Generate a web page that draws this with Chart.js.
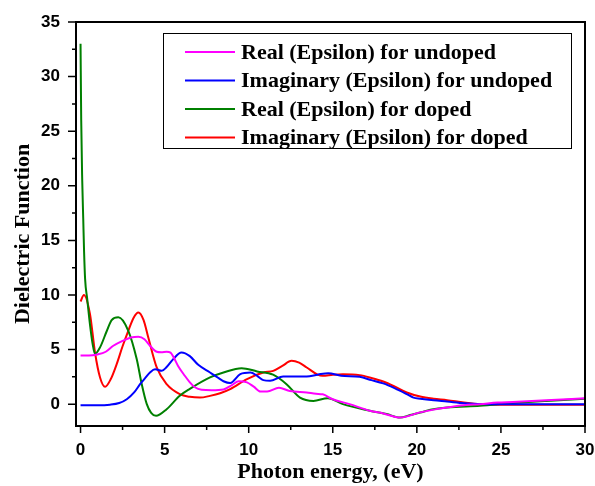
<!DOCTYPE html>
<html>
<head>
<meta charset="utf-8">
<script src="https://cdn.jsdelivr.net/npm/chart.js@4.4.1/dist/chart.umd.min.js"></script>
<style>
  body { margin: 0; background: #fff; }
  canvas { display: block; }
</style>
</head>
<body>
<canvas id="dielectricChart" width="595" height="486"></canvas>
<script>
// Real and imaginary parts of the dielectric function vs photon energy (eV)
const realUndopedX = [0, 0.5, 1.0, 1.5, 1.95, 2.5, 3.0, 3.44, 3.8, 4.13, 4.53, 4.8, 5.12, 5.35, 5.5, 5.8, 6.2, 6.5, 6.8, 7.2, 7.8, 8.5, 9.0, 9.4, 9.9, 10.3, 10.7, 11.1, 11.8, 12.45, 13.45, 14.0, 14.4, 15.0, 16.0, 17.2, 18.0, 19.0, 20.2, 21.0, 21.8, 22.8, 23.75, 24.8, 25.7, 27.7, 30];
const realUndopedY = [4.45, 4.45, 4.55, 4.8, 5.35, 5.8, 6.1, 6.17, 5.95, 5.35, 4.8, 4.75, 4.8, 4.72, 4.4, 3.5, 2.6, 2.0, 1.55, 1.32, 1.28, 1.35, 1.75, 2.1, 2.0, 1.6, 1.15, 1.15, 1.5, 1.2, 1.07, 0.95, 0.9, 0.45, 0.0, -0.6, -0.85, -1.23, -0.75, -0.5, -0.3, -0.1, 0.0, 0.15, 0.2, 0.35, 0.55];

const imagUndopedX = [0, 0.5, 1.0, 1.75, 2.3, 2.75, 3.2, 3.54, 3.85, 4.13, 4.43, 4.83, 5.12, 5.5, 6.0, 6.5, 7.0, 7.7, 8.1, 8.5, 8.9, 9.5, 10.1, 10.5, 10.87, 11.27, 12.05, 13.45, 14.1, 14.73, 15.5, 16.6, 17.3, 18.0, 18.7, 19.4, 19.8, 20.2, 21.0, 21.8, 22.8, 24.35, 26, 28, 30];
const imagUndopedY = [-0.1, -0.1, -0.1, -0.05, 0.1, 0.45, 1.1, 1.83, 2.4, 2.9, 3.2, 3.05, 3.4, 4.1, 4.73, 4.4, 3.6, 2.9, 2.5, 2.1, 1.93, 2.75, 2.9, 2.6, 2.2, 2.14, 2.53, 2.53, 2.7, 2.84, 2.6, 2.5, 2.2, 1.9, 1.45, 0.92, 0.6, 0.5, 0.35, 0.24, 0.09, 0.0, 0.0, 0.0, 0.0];

const realDopedX = [0, 0.04, 0.1, 0.16, 0.21, 0.27, 0.4, 0.56, 0.72, 0.86, 1.16, 1.56, 1.85, 2.25, 2.84, 3.34, 3.64, 3.94, 4.2, 4.49, 5.12, 5.9, 6.5, 7.7, 8.5, 9.58, 10.5, 11.45, 12.25, 13.05, 13.85, 14.7, 15.6, 17.2, 18.2, 19.0, 19.6, 20.2, 20.8, 21.8, 23.75, 25.7, 27.7, 30];
const realDopedY = [33, 26, 20.5, 17, 14, 11.5, 9.6, 7.3, 5.5, 4.6, 5.2, 6.7, 7.7, 7.95, 6.72, 4.13, 1.83, 0.0, -0.8, -1.07, -0.46, 0.77, 1.4, 2.45, 2.9, 3.3, 3.0, 2.7, 1.83, 0.6, 0.3, 0.55, 0.0, -0.6, -0.9, -1.23, -1.0, -0.77, -0.52, -0.3, -0.15, 0.1, 0.3, 0.5];

const imagDopedX = [0, 0.2, 0.56, 0.86, 1.16, 1.46, 1.8, 2.15, 2.5, 2.84, 3.15, 3.44, 3.75, 4.03, 4.53, 5.12, 5.9, 6.5, 7.1, 7.7, 8.3, 8.9, 9.9, 10.87, 11.46, 12.0, 12.55, 13.0, 13.45, 14.1, 14.4, 15.0, 15.6, 16.6, 17.3, 18.0, 18.7, 19.4, 20.2, 21.0, 21.8, 22.8, 23.75, 25.7, 30];
const imagDopedY = [9.4, 10.0, 8.26, 4.73, 2.44, 1.59, 2.3, 3.67, 5.3, 6.72, 7.9, 8.4, 7.7, 6.1, 3.36, 1.83, 0.92, 0.67, 0.6, 0.76, 1.0, 1.38, 2.3, 2.9, 3.05, 3.5, 3.97, 3.8, 3.36, 2.7, 2.6, 2.7, 2.75, 2.66, 2.4, 2.07, 1.6, 1.07, 0.7, 0.5, 0.37, 0.15, 0.0, -0.05, -0.05];

const seriesLabels = [
  'Real (Epsilon) for undoped',
  'Imaginary (Epsilon) for undoped',
  'Real (Epsilon) for doped',
  'Imaginary (Epsilon) for doped'
];
const seriesColors = ['#ff00ff', '#0000ff', '#008000', '#ff0000'];

const xMajorTicks = [0, 5, 10, 15, 20, 25, 30];
const xMinorTicks = [2.5, 7.5, 12.5, 17.5, 22.5, 27.5];
const yMajorTicks = [0, 5, 10, 15, 20, 25, 30, 35];
const yMinorTicks = [2.5, 7.5, 12.5, 17.5, 22.5, 27.5, 32.5];

const serif = '"Liberation Serif", "Times New Roman", serif';
const sans = '"Liberation Sans", Arial, sans-serif';

function toPoints(xs, ys) {
  return xs.map((x, i) => ({ x: x, y: ys[i] }));
}

const seriesPoints = [
  toPoints(realUndopedX, realUndopedY),
  toPoints(imagUndopedX, imagUndopedY),
  toPoints(realDopedX, realDopedY),
  toPoints(imagDopedX, imagDopedY)
];

// frame, tick marks, y title and the boxed legend inside the plot
const decorations = {
  id: 'decorations',
  afterDraw(chart) {
    const ctx = chart.ctx;
    const { left, right, top, bottom } = chart.chartArea;
    const xs = chart.scales.x, ys = chart.scales.y;
    ctx.save();
    ctx.strokeStyle = '#000';
    ctx.lineWidth = 2;
    ctx.strokeRect(left, top, right - left, bottom - top);

    ctx.lineWidth = 1.5;
    ctx.beginPath();
    xMajorTicks.forEach(v => { const p = xs.getPixelForValue(v); ctx.moveTo(p, bottom); ctx.lineTo(p, bottom + 7); });
    xMinorTicks.forEach(v => { const p = xs.getPixelForValue(v); ctx.moveTo(p, bottom); ctx.lineTo(p, bottom + 4); });
    yMajorTicks.forEach(v => { const p = ys.getPixelForValue(v); ctx.moveTo(left, p); ctx.lineTo(left - 8, p); });
    yMinorTicks.forEach(v => { const p = ys.getPixelForValue(v); ctx.moveTo(left, p); ctx.lineTo(left - 4, p); });
    ctx.stroke();

    // y axis title
    ctx.fillStyle = '#000';
    ctx.font = 'bold 22px ' + serif;
    ctx.textAlign = 'center';
    ctx.textBaseline = 'middle';
    ctx.translate(23, (top + bottom) / 2 + 10);
    ctx.rotate(-Math.PI / 2);
    ctx.fillText('Dielectric Function', 0, 0);
    ctx.restore();

    // legend
    ctx.save();
    const bx = 163, by = top + 11;
    ctx.fillStyle = '#fff';
    ctx.fillRect(bx, by, 408, 115);
    ctx.strokeStyle = '#000';
    ctx.lineWidth = 1;
    ctx.strokeRect(bx + 0.5, by + 0.5, 408, 115);
    ctx.font = 'bold 22px ' + serif;
    ctx.textAlign = 'left';
    ctx.textBaseline = 'middle';
    chart.data.datasets.forEach((ds, i) => {
      const ry = by + 19 + i * 28.5;
      ctx.strokeStyle = ds.borderColor;
      ctx.lineWidth = 2;
      ctx.beginPath();
      ctx.moveTo(bx + 22, ry);
      ctx.lineTo(bx + 72, ry);
      ctx.stroke();
      ctx.fillStyle = '#000';
      ctx.fillText(ds.label, bx + 78, ry + 1);
    });
    ctx.restore();
  }
};

new Chart(document.getElementById('dielectricChart'), {
  type: 'line',
  data: {
    datasets: seriesPoints.map((pts, i) => ({
      label: seriesLabels[i],
      data: pts,
      borderColor: seriesColors[i],
      backgroundColor: seriesColors[i],
      borderWidth: 2,
      pointRadius: 0,
      cubicInterpolationMode: 'monotone',
      fill: false
    }))
  },
  options: {
    responsive: false,
    animation: false,
    layout: { padding: { top: 22, right: 10, left: 0, bottom: 0 } },
    plugins: {
      legend: { display: false },
      tooltip: { enabled: false }
    },
    scales: {
      x: {
        type: 'linear',
        min: -0.27,
        max: 30,
        afterBuildTicks: s => { s.ticks = xMajorTicks.map(v => ({ value: v })); },
        afterFit: s => { s.height = 60; s.paddingLeft = 0; s.paddingRight = 0; },
        grid: { display: false, drawTicks: false },
        border: { display: false },
        ticks: {
          autoSkip: false,
          maxRotation: 0,
          padding: 14,
          color: '#000',
          font: { family: sans, size: 17, weight: 'bold' }
        },
        title: {
          display: true,
          text: 'Photon energy, (eV)',
          color: '#000',
          padding: { top: 0, bottom: 0 },
          font: { family: serif, size: 22, weight: 'bold', lineHeight: 1.2 }
        }
      },
      y: {
        min: -2,
        max: 35,
        afterBuildTicks: s => { s.ticks = yMajorTicks.map(v => ({ value: v })); },
        afterFit: s => { s.width = 76; s.paddingTop = 0; s.paddingBottom = 0; },
        grid: { display: false, drawTicks: false },
        border: { display: false },
        ticks: {
          padding: 16,
          color: '#000',
          font: { family: sans, size: 17, weight: 'bold' }
        }
      }
    }
  },
  plugins: [decorations]
});
</script>
</body>
</html>
